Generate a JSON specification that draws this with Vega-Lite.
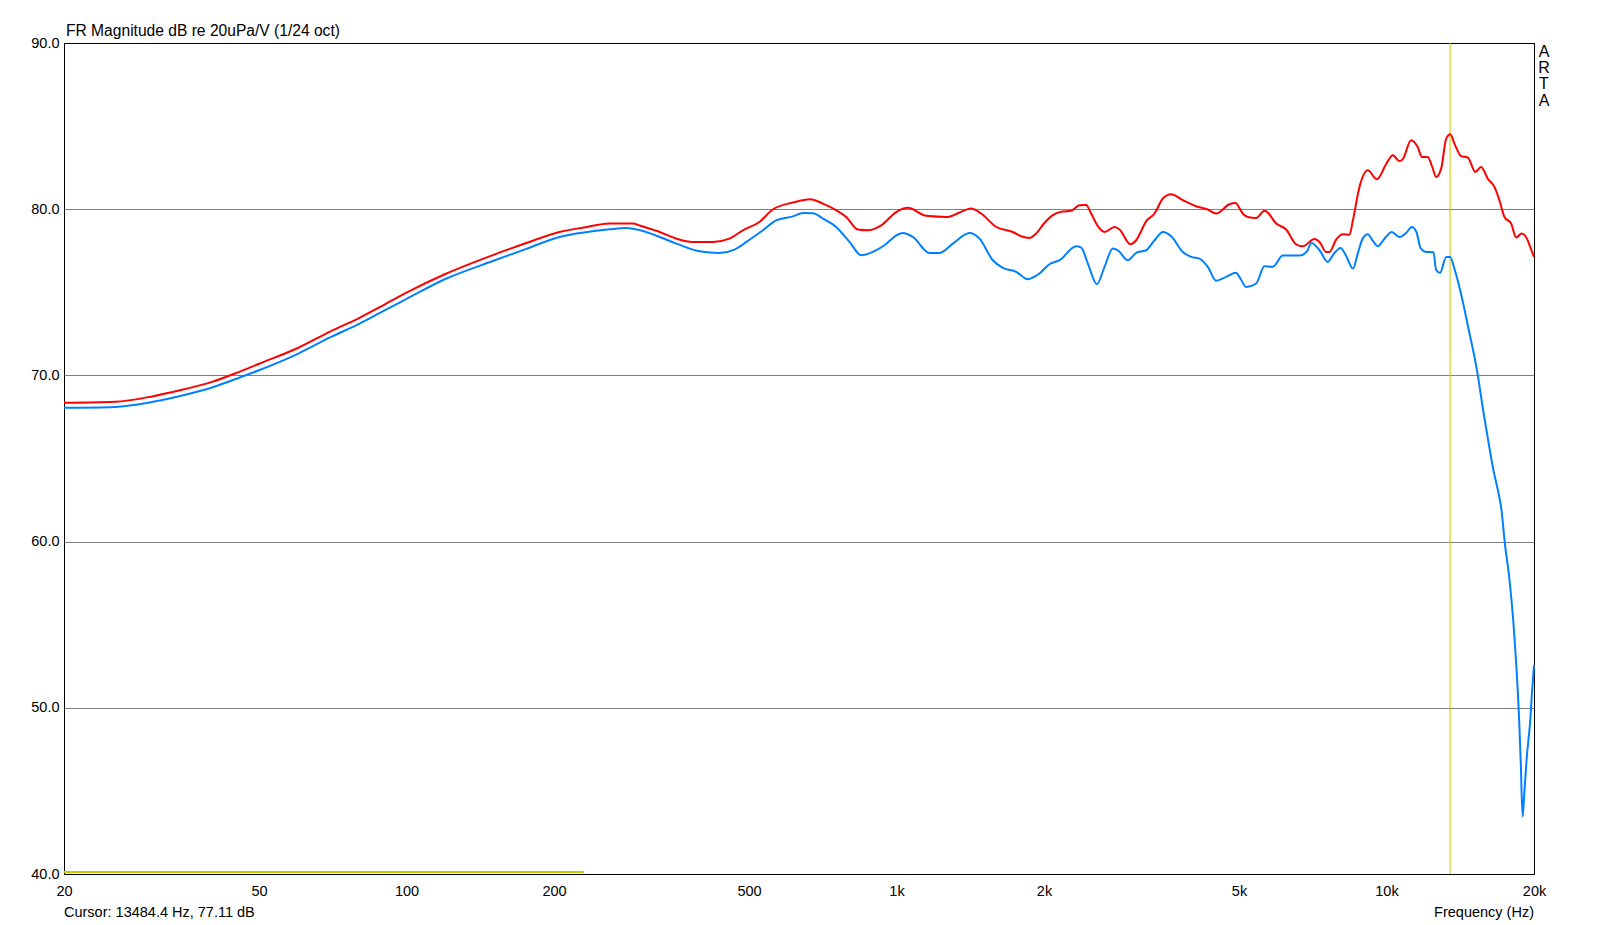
{
  "$schema": "https://vega.github.io/schema/vega-lite/v6.json",
  "autosize": {"type": "none"},
  "padding": {"left": 64, "top": 43, "right": 64, "bottom": 51},
  "width": 1470,
  "height": 831,
  "background": "white",
  "config": {
    "font": "Liberation Sans",
    "view": {"stroke": "#000000", "strokeWidth": 1},
    "axis": {"labelFont": "Liberation Sans", "labelColor": "#000000", "labelFontSize": 14.5}
  },
  "datasets": {
    "curves": [
      {"trace": "A", "f": 20, "db": 68.35}, {"trace": "A", "f": 25.4, "db": 68.41}, {"trace": "A", "f": 30.4, "db": 68.75},
      {"trace": "A", "f": 35, "db": 69.15}, {"trace": "A", "f": 40.1, "db": 69.61}, {"trace": "A", "f": 45, "db": 70.15},
      {"trace": "A", "f": 50, "db": 70.7}, {"trace": "A", "f": 60, "db": 71.65}, {"trace": "A", "f": 70, "db": 72.65},
      {"trace": "A", "f": 80, "db": 73.45}, {"trace": "A", "f": 90, "db": 74.25}, {"trace": "A", "f": 100, "db": 74.98},
      {"trace": "A", "f": 120, "db": 76.1}, {"trace": "A", "f": 150, "db": 77.24}, {"trace": "A", "f": 175, "db": 77.95},
      {"trace": "A", "f": 205.3, "db": 78.63}, {"trace": "A", "f": 230, "db": 78.9}, {"trace": "A", "f": 259.7, "db": 79.14},
      {"trace": "A", "f": 289.8, "db": 79.14}, {"trace": "A", "f": 300, "db": 79.0}, {"trace": "A", "f": 328.6, "db": 78.63},
      {"trace": "A", "f": 355.4, "db": 78.23}, {"trace": "A", "f": 384, "db": 78.03}, {"trace": "A", "f": 422, "db": 78.03},
      {"trace": "A", "f": 456, "db": 78.23}, {"trace": "A", "f": 485.8, "db": 78.73}, {"trace": "A", "f": 525, "db": 79.23},
      {"trace": "A", "f": 559, "db": 79.98}, {"trace": "A", "f": 614.6, "db": 80.4}, {"trace": "A", "f": 666.8, "db": 80.6},
      {"trace": "A", "f": 707.6, "db": 80.34}, {"trace": "A", "f": 753, "db": 79.94}, {"trace": "A", "f": 789.6, "db": 79.53},
      {"trace": "A", "f": 833.8, "db": 78.78}, {"trace": "A", "f": 874, "db": 78.73}, {"trace": "A", "f": 930.8, "db": 79.03},
      {"trace": "A", "f": 998.8, "db": 79.83}, {"trace": "A", "f": 1055, "db": 80.08}, {"trace": "A", "f": 1150, "db": 79.6},
      {"trace": "A", "f": 1272, "db": 79.53}, {"trace": "A", "f": 1344.6, "db": 79.8}, {"trace": "A", "f": 1420, "db": 80.04},
      {"trace": "A", "f": 1488.6, "db": 79.74}, {"trace": "A", "f": 1598, "db": 78.93}, {"trace": "A", "f": 1727, "db": 78.63},
      {"trace": "A", "f": 1797, "db": 78.37}, {"trace": "A", "f": 1868, "db": 78.27}, {"trace": "A", "f": 1928, "db": 78.54},
      {"trace": "A", "f": 2000, "db": 79.14}, {"trace": "A", "f": 2084, "db": 79.64}, {"trace": "A", "f": 2184, "db": 79.86},
      {"trace": "A", "f": 2272, "db": 79.9}, {"trace": "A", "f": 2362, "db": 80.24}, {"trace": "A", "f": 2438, "db": 80.26},
      {"trace": "A", "f": 2496, "db": 79.74}, {"trace": "A", "f": 2576, "db": 78.98}, {"trace": "A", "f": 2658, "db": 78.63},
      {"trace": "A", "f": 2786, "db": 78.93}, {"trace": "A", "f": 2852, "db": 78.78}, {"trace": "A", "f": 3000, "db": 77.89},
      {"trace": "A", "f": 3084, "db": 78.13}, {"trace": "A", "f": 3232, "db": 79.27}, {"trace": "A", "f": 3362, "db": 79.74},
      {"trace": "A", "f": 3496, "db": 80.64}, {"trace": "A", "f": 3636, "db": 80.9}, {"trace": "A", "f": 3840, "db": 80.54},
      {"trace": "A", "f": 4088, "db": 80.18}, {"trace": "A", "f": 4318, "db": 79.98}, {"trace": "A", "f": 4492, "db": 79.74},
      {"trace": "A", "f": 4780, "db": 80.3}, {"trace": "A", "f": 4918, "db": 80.38}, {"trace": "A", "f": 5088, "db": 79.74},
      {"trace": "A", "f": 5210, "db": 79.53}, {"trace": "A", "f": 5420, "db": 79.47}, {"trace": "A", "f": 5636, "db": 79.9},
      {"trace": "A", "f": 5700, "db": 79.84}, {"trace": "A", "f": 5954, "db": 79.14}, {"trace": "A", "f": 6240, "db": 78.78},
      {"trace": "A", "f": 6540, "db": 77.89}, {"trace": "A", "f": 6748, "db": 77.77}, {"trace": "A", "f": 7128, "db": 78.21},
      {"trace": "A", "f": 7300, "db": 78.03}, {"trace": "A", "f": 7530, "db": 77.43}, {"trace": "A", "f": 7645, "db": 77.43},
      {"trace": "A", "f": 7894, "db": 78.17}, {"trace": "A", "f": 8144, "db": 78.49}, {"trace": "A", "f": 8404, "db": 78.47},
      {"trace": "A", "f": 8540, "db": 79.33}, {"trace": "A", "f": 8808, "db": 81.34}, {"trace": "A", "f": 9158, "db": 82.34},
      {"trace": "A", "f": 9554, "db": 81.8}, {"trace": "A", "f": 10000, "db": 82.75}, {"trace": "A", "f": 10296, "db": 83.25},
      {"trace": "A", "f": 10626, "db": 82.9}, {"trace": "A", "f": 10790, "db": 83.0}, {"trace": "A", "f": 11226, "db": 84.15},
      {"trace": "A", "f": 11580, "db": 83.74}, {"trace": "A", "f": 11820, "db": 83.14}, {"trace": "A", "f": 12138, "db": 83.14},
      {"trace": "A", "f": 12400, "db": 82.54}, {"trace": "A", "f": 12628, "db": 81.94}, {"trace": "A", "f": 12928, "db": 82.44},
      {"trace": "A", "f": 13240, "db": 84.25}, {"trace": "A", "f": 13500, "db": 84.51}, {"trace": "A", "f": 13762, "db": 83.95},
      {"trace": "A", "f": 14200, "db": 83.19}, {"trace": "A", "f": 14648, "db": 83.11}, {"trace": "A", "f": 15186, "db": 82.24},
      {"trace": "A", "f": 15600, "db": 82.54}, {"trace": "A", "f": 16090, "db": 81.84}, {"trace": "A", "f": 16606, "db": 81.34},
      {"trace": "A", "f": 17000, "db": 80.54}, {"trace": "A", "f": 17404, "db": 79.53}, {"trace": "A", "f": 17962, "db": 79.14},
      {"trace": "A", "f": 18388, "db": 78.3}, {"trace": "A", "f": 18880, "db": 78.54}, {"trace": "A", "f": 19350, "db": 78.23},
      {"trace": "A", "f": 19650, "db": 77.73}, {"trace": "A", "f": 20000, "db": 77.13},

      {"trace": "B", "f": 20, "db": 68.05}, {"trace": "B", "f": 25.4, "db": 68.1}, {"trace": "B", "f": 30.4, "db": 68.41},
      {"trace": "B", "f": 35, "db": 68.8}, {"trace": "B", "f": 40.1, "db": 69.27}, {"trace": "B", "f": 45, "db": 69.8},
      {"trace": "B", "f": 50, "db": 70.31}, {"trace": "B", "f": 60, "db": 71.3}, {"trace": "B", "f": 70, "db": 72.3},
      {"trace": "B", "f": 80, "db": 73.1}, {"trace": "B", "f": 90, "db": 73.9}, {"trace": "B", "f": 100, "db": 74.6},
      {"trace": "B", "f": 120, "db": 75.8}, {"trace": "B", "f": 150, "db": 76.88}, {"trace": "B", "f": 175, "db": 77.6},
      {"trace": "B", "f": 205.3, "db": 78.33}, {"trace": "B", "f": 230, "db": 78.6}, {"trace": "B", "f": 259.7, "db": 78.79},
      {"trace": "B", "f": 281, "db": 78.87}, {"trace": "B", "f": 300, "db": 78.73}, {"trace": "B", "f": 328.6, "db": 78.33},
      {"trace": "B", "f": 355.4, "db": 77.93}, {"trace": "B", "f": 396, "db": 77.47}, {"trace": "B", "f": 435, "db": 77.37},
      {"trace": "B", "f": 467, "db": 77.57}, {"trace": "B", "f": 494, "db": 78.03}, {"trace": "B", "f": 533.6, "db": 78.73},
      {"trace": "B", "f": 568, "db": 79.33}, {"trace": "B", "f": 614.6, "db": 79.57}, {"trace": "B", "f": 644, "db": 79.77},
      {"trace": "B", "f": 675, "db": 79.75}, {"trace": "B", "f": 707.6, "db": 79.44}, {"trace": "B", "f": 753, "db": 78.93},
      {"trace": "B", "f": 802, "db": 78.03}, {"trace": "B", "f": 847, "db": 77.23}, {"trace": "B", "f": 895, "db": 77.43},
      {"trace": "B", "f": 945, "db": 77.83}, {"trace": "B", "f": 1000, "db": 78.43}, {"trace": "B", "f": 1030, "db": 78.57},
      {"trace": "B", "f": 1080, "db": 78.33}, {"trace": "B", "f": 1168, "db": 77.37}, {"trace": "B", "f": 1224, "db": 77.37},
      {"trace": "B", "f": 1303, "db": 77.93}, {"trace": "B", "f": 1409, "db": 78.57}, {"trace": "B", "f": 1477, "db": 78.23},
      {"trace": "B", "f": 1572, "db": 76.93}, {"trace": "B", "f": 1648, "db": 76.47}, {"trace": "B", "f": 1755, "db": 76.23},
      {"trace": "B", "f": 1854, "db": 75.79}, {"trace": "B", "f": 1898, "db": 75.89}, {"trace": "B", "f": 1958, "db": 76.13},
      {"trace": "B", "f": 2052, "db": 76.69}, {"trace": "B", "f": 2152, "db": 76.93}, {"trace": "B", "f": 2326, "db": 77.77},
      {"trace": "B", "f": 2382, "db": 77.69}, {"trace": "B", "f": 2458, "db": 76.73}, {"trace": "B", "f": 2564, "db": 75.49},
      {"trace": "B", "f": 2658, "db": 76.53}, {"trace": "B", "f": 2764, "db": 77.63}, {"trace": "B", "f": 2830, "db": 77.53},
      {"trace": "B", "f": 2966, "db": 76.93}, {"trace": "B", "f": 3084, "db": 77.37}, {"trace": "B", "f": 3232, "db": 77.53},
      {"trace": "B", "f": 3362, "db": 78.13}, {"trace": "B", "f": 3496, "db": 78.63}, {"trace": "B", "f": 3636, "db": 78.37},
      {"trace": "B", "f": 3840, "db": 77.43}, {"trace": "B", "f": 3994, "db": 77.13}, {"trace": "B", "f": 4152, "db": 77.03},
      {"trace": "B", "f": 4318, "db": 76.53}, {"trace": "B", "f": 4492, "db": 75.69}, {"trace": "B", "f": 4708, "db": 75.93},
      {"trace": "B", "f": 4930, "db": 76.17}, {"trace": "B", "f": 5032, "db": 75.83}, {"trace": "B", "f": 5170, "db": 75.32},
      {"trace": "B", "f": 5420, "db": 75.53}, {"trace": "B", "f": 5636, "db": 76.57}, {"trace": "B", "f": 5860, "db": 76.53},
      {"trace": "B", "f": 6142, "db": 77.21}, {"trace": "B", "f": 6644, "db": 77.21}, {"trace": "B", "f": 6870, "db": 77.43},
      {"trace": "B", "f": 7030, "db": 77.97}, {"trace": "B", "f": 7300, "db": 77.53}, {"trace": "B", "f": 7590, "db": 76.83},
      {"trace": "B", "f": 7810, "db": 77.33}, {"trace": "B", "f": 8060, "db": 77.67}, {"trace": "B", "f": 8260, "db": 77.23},
      {"trace": "B", "f": 8540, "db": 76.43}, {"trace": "B", "f": 8738, "db": 77.33}, {"trace": "B", "f": 8940, "db": 78.23},
      {"trace": "B", "f": 9158, "db": 78.49}, {"trace": "B", "f": 9380, "db": 78.09}, {"trace": "B", "f": 9610, "db": 77.77},
      {"trace": "B", "f": 9850, "db": 78.13}, {"trace": "B", "f": 10250, "db": 78.63}, {"trace": "B", "f": 10626, "db": 78.33},
      {"trace": "B", "f": 10966, "db": 78.57}, {"trace": "B", "f": 11270, "db": 78.93}, {"trace": "B", "f": 11510, "db": 78.63},
      {"trace": "B", "f": 11750, "db": 77.63}, {"trace": "B", "f": 12050, "db": 77.43}, {"trace": "B", "f": 12470, "db": 77.41},
      {"trace": "B", "f": 12628, "db": 76.33}, {"trace": "B", "f": 12860, "db": 76.17}, {"trace": "B", "f": 13240, "db": 77.13},
      {"trace": "B", "f": 13480, "db": 77.13}, {"trace": "B", "f": 13762, "db": 76.42}, {"trace": "B", "f": 14088, "db": 75.31},
      {"trace": "B", "f": 14428, "db": 73.97}, {"trace": "B", "f": 14772, "db": 72.52}, {"trace": "B", "f": 15130, "db": 71.07},
      {"trace": "B", "f": 15370, "db": 69.96}, {"trace": "B", "f": 15738, "db": 67.95}, {"trace": "B", "f": 16110, "db": 66.17},
      {"trace": "B", "f": 16504, "db": 64.39}, {"trace": "B", "f": 16890, "db": 63.05}, {"trace": "B", "f": 17160, "db": 61.94},
      {"trace": "B", "f": 17430, "db": 59.97}, {"trace": "B", "f": 17858, "db": 57.48}, {"trace": "B", "f": 18140, "db": 55.25},
      {"trace": "B", "f": 18420, "db": 52.36}, {"trace": "B", "f": 18640, "db": 49.46}, {"trace": "B", "f": 18790, "db": 46.79},
      {"trace": "B", "f": 18960, "db": 43.45}, {"trace": "B", "f": 19080, "db": 44.57}, {"trace": "B", "f": 19330, "db": 47.01},
      {"trace": "B", "f": 19650, "db": 49.24}, {"trace": "B", "f": 19800, "db": 50.8}, {"trace": "B", "f": 20000, "db": 52.58}
    ],
    "cursor": [{"f": 13484.4}],
    "band": [{"f": 20, "f2": 230, "db": 40.12}],
    "one": [{}]
  },
  "layer": [
    {
      "data": {"name": "cursor"},
      "mark": {"type": "rule", "color": "#c8c800", "strokeWidth": 1},
      "encoding": {
        "x": {"field": "f", "type": "quantitative", "scale": {"type": "log", "domain": [20, 20000], "nice": false},
          "axis": {
            "values": [20, 30, 40, 50, 60, 70, 80, 90, 100, 200, 300, 400, 500, 600, 700, 800, 900, 1000, 2000, 3000, 4000, 5000, 6000, 7000, 8000, 9000, 10000, 20000],
            "labelExpr": "indexof([20,50,100,200,500],datum.value)>=0 ? ''+datum.value : (indexof([1000,2000,5000,10000,20000],datum.value)>=0 ? (datum.value/1000)+'k' : '')",
            "labelOverlap": false,
            "labelFlush": false,
            "labelPadding": 10,
            "ticks": false,
            "domain": false,
            "title": null,
            "grid": true,
            "gridColor": {"condition": {"test": "datum.value==20 || datum.value==20000", "value": "#000000"}, "value": {"expr": "(datum.value==100 || datum.value==1000 || datum.value==10000) ? '#808080' : '#c0c0c0'"}},
            "gridWidth": 1
          }
        }
      }
    },
    {
      "data": {"name": "band"},
      "mark": {"type": "rule", "color": "#c8c800", "strokeWidth": 2},
      "encoding": {
        "x": {"field": "f", "type": "quantitative"},
        "x2": {"field": "f2"},
        "y": {"field": "db", "type": "quantitative", "scale": {"domain": [40, 90], "nice": false, "zero": false},
          "axis": {
            "values": [40, 50, 60, 70, 80, 90],
            "format": ".1f",
            "labelPadding": 5,
            "ticks": false,
            "domain": false,
            "title": null,
            "grid": true,
            "gridColor": {"condition": {"test": "datum.value==40 || datum.value==90", "value": "#000000"}, "value": "#808080"},
            "gridWidth": 1
          }
        }
      }
    },
    {
      "data": {"name": "curves"},
      "mark": {"type": "line", "strokeWidth": 2, "interpolate": "monotone"},
      "encoding": {
        "x": {"field": "f", "type": "quantitative"},
        "y": {"field": "db", "type": "quantitative"},
        "color": {"field": "trace", "type": "nominal", "scale": {"domain": ["A", "B"], "range": ["#ff0000", "#0080ff"]}, "legend": null},
        "order": {"field": "f", "type": "quantitative"}
      }
    },
    {
      "data": {"name": "one"},
      "mark": {"type": "text", "align": "left", "baseline": "alphabetic", "dx": 2, "dy": -7, "fontSize": 15.6, "font": "Liberation Sans", "color": "#000000"},
      "encoding": {
        "x": {"datum": 20, "type": "quantitative"},
        "y": {"datum": 90, "type": "quantitative"},
        "text": {"value": "FR Magnitude dB re 20uPa/V (1/24 oct)"}
      }
    },
    {
      "data": {"name": "one"},
      "mark": {"type": "text", "align": "left", "baseline": "middle", "fontSize": 14.5, "font": "Liberation Sans", "color": "#000000"},
      "encoding": {
        "x": {"datum": 20, "type": "quantitative"},
        "y": {"datum": 37.65, "type": "quantitative"},
        "text": {"value": "Cursor: 13484.4 Hz, 77.11 dB"}
      }
    },
    {
      "data": {"name": "one"},
      "mark": {"type": "text", "align": "right", "baseline": "middle", "fontSize": 14.5, "font": "Liberation Sans", "color": "#000000"},
      "encoding": {
        "x": {"datum": 20000, "type": "quantitative"},
        "y": {"datum": 37.65, "type": "quantitative"},
        "text": {"value": "Frequency (Hz)"}
      }
    },
    {
      "data": {"name": "one"},
      "mark": {"type": "text", "align": "center", "baseline": "top", "dx": 10, "dy": 1, "fontSize": 16, "lineHeight": 16.2, "font": "Liberation Sans", "color": "#000000"},
      "encoding": {
        "x": {"datum": 20000, "type": "quantitative"},
        "y": {"datum": 90, "type": "quantitative"},
        "text": {"value": ["A", "R", "T", "A"]}
      }
    }
  ]
}
